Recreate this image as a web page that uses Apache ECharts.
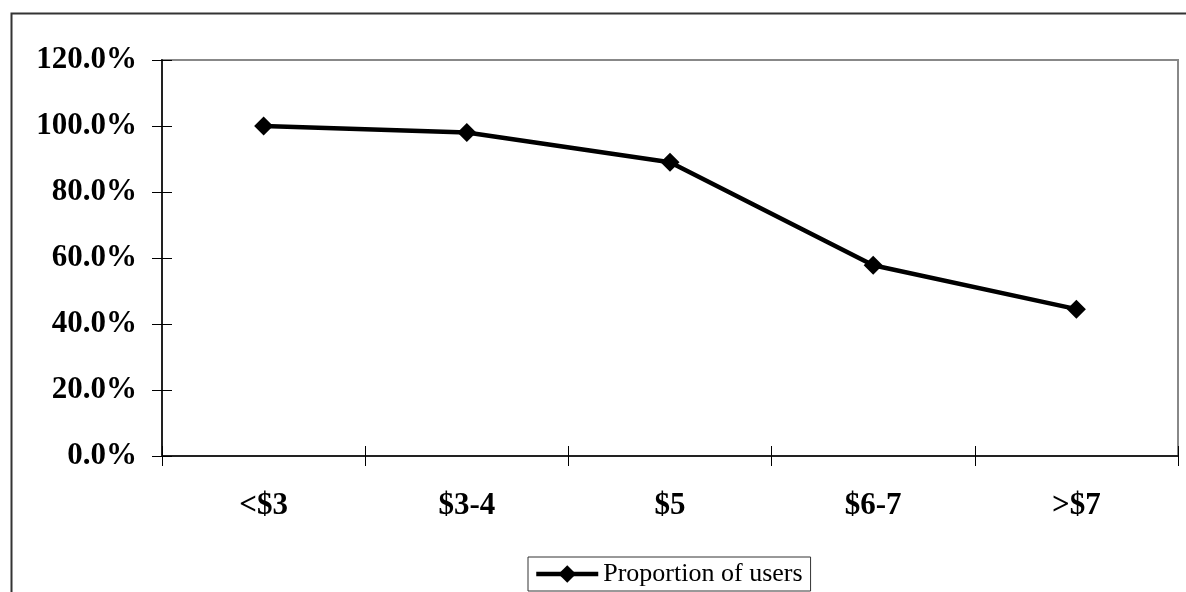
<!DOCTYPE html>
<html>
<head>
<meta charset="utf-8">
<script src="https://cdn.jsdelivr.net/npm/echarts@6/dist/echarts.min.js"></script>
<style>
  html, body { margin: 0; padding: 0; background: #fff; }
  #chart { width: 1186px; height: 592px; }
</style>
</head>
<body>
<div id="chart"></div>
<script>
var categories = ['<$3', '$3-4', '$5', '$6-7', '>$7'];
var proportionOfUsers = [100.0, 98.0, 89.0, 57.8, 44.5];
var seriesName = 'Proportion of users';

var chart = echarts.init(document.getElementById('chart'));

var labelFont = { fontFamily: '"Liberation Serif", "DejaVu Serif", serif', fontWeight: 'bold', fontSize: 31, color: '#000' };

var option = {
    animation: false,
    backgroundColor: '#fff',
    graphic: [{
        type: 'rect',
        left: 9, top: 11,
        shape: { width: 1200, height: 600 },
        style: { fill: 'none', stroke: '#333', lineWidth: 2 },
        silent: true
    }],
    grid: {
        left: 162, right: 8, top: 60, bottom: 136,
        show: true, borderColor: '#888', borderWidth: 2, backgroundColor: '#fff'
    },
    legend: {
        bottom: 1,
        left: 528,
        itemWidth: 62,
        itemHeight: 22,
        itemGap: 0,
        padding: [4, 8, 4, 6],
        borderColor: '#333',
        borderWidth: 1,
        lineStyle: { width: 4.5 },
        textStyle: { fontFamily: '"Liberation Serif", serif', fontSize: 26, color: '#000' },
        data: [seriesName]
    },
    xAxis: [{
        type: 'category',
        data: categories,
        boundaryGap: true,
        axisLine: { show: true, lineStyle: { color: '#222', width: 2 } },
        axisTick: { show: true, interval: 0, length: 10, lineStyle: { color: '#000', width: 1 } },
        axisLabel: Object.assign({ margin: 34, interval: 0 }, labelFont)
    }, {
        type: 'category',
        data: categories,
        position: 'bottom',
        boundaryGap: true,
        axisLine: { show: false },
        axisTick: { show: true, interval: 0, inside: true, length: 10, lineStyle: { color: '#000', width: 1 } },
        axisLabel: { show: false }
    }],
    yAxis: [{
        type: 'value',
        min: 0, max: 120, interval: 20,
        splitLine: { show: false },
        axisLine: { show: true, lineStyle: { color: '#222', width: 2 } },
        axisTick: { show: true, length: 10, lineStyle: { color: '#000', width: 1 } },
        axisLabel: Object.assign({
            margin: 25,
            formatter: function (v) { return v.toFixed(1) + '%'; }
        }, labelFont)
    }, {
        type: 'value',
        position: 'left',
        min: 0, max: 120, interval: 20,
        splitLine: { show: false },
        axisLine: { show: false },
        axisTick: { show: true, inside: true, length: 10, lineStyle: { color: '#000', width: 1 } },
        axisLabel: { show: false }
    }],
    series: [{
        name: seriesName,
        type: 'line',
        data: proportionOfUsers,
        symbol: 'diamond',
        symbolSize: 19,
        lineStyle: { color: '#000', width: 4.5 },
        itemStyle: { color: '#000' }
    }]
};

chart.setOption(option);
</script>
</body>
</html>
